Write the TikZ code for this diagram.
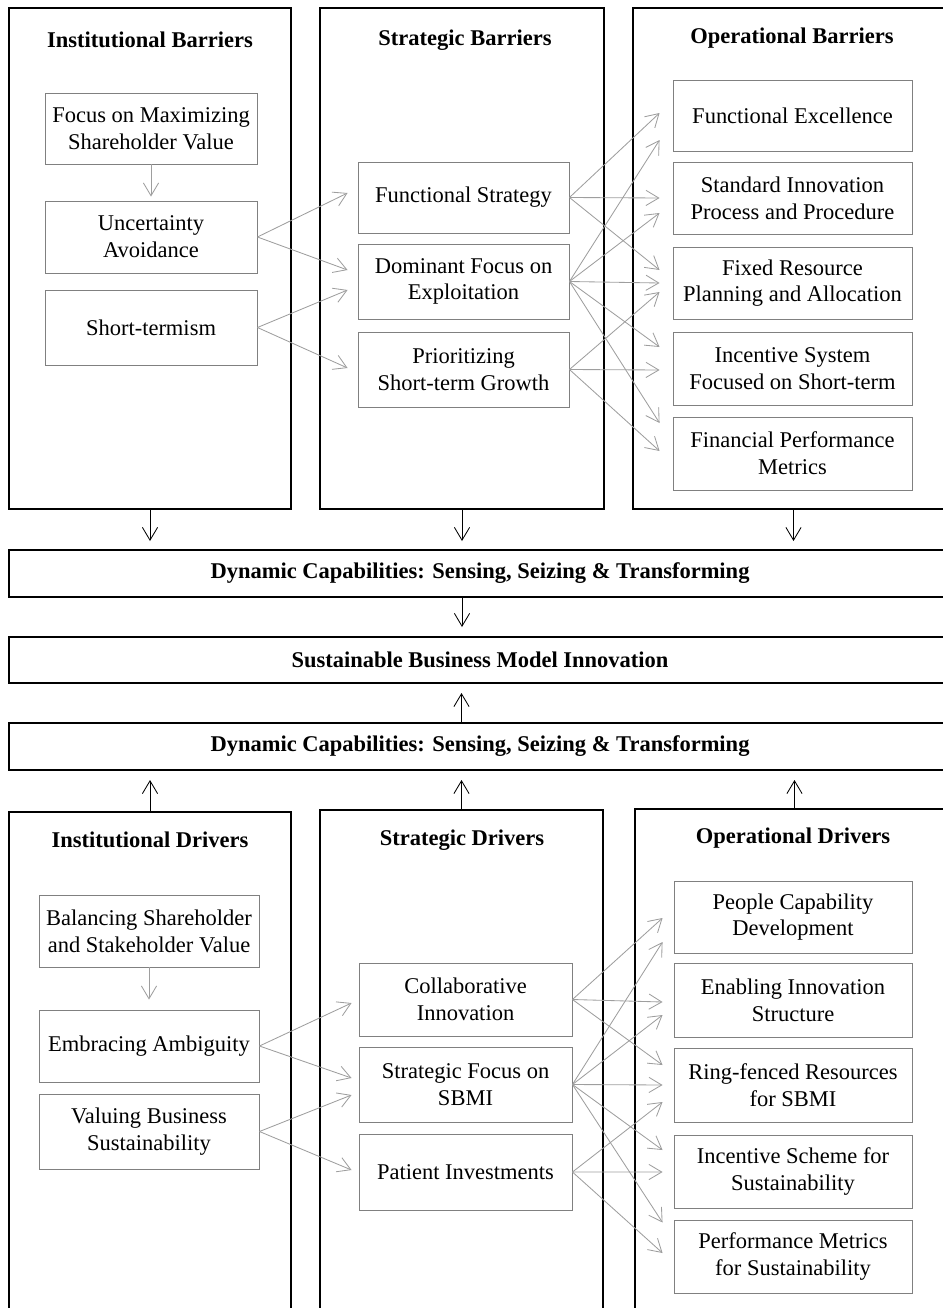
\documentclass[tikz,border=0pt]{standalone}
\usepackage{fontspec}
\setmainfont{Liberation Serif}
\usetikzlibrary{arrows.meta}

\begin{document}
\begin{tikzpicture}[x=0.025cm, y=-0.025cm,
    font=\fontsize{16}{19}\selectfont,
    panel/.style={draw, line width=1.4pt},
    inbox/.style={draw=black!50, line width=0.6pt, align=center, inner sep=0pt},
    wide/.style={draw, line width=1.4pt, font=\fontsize{16}{19}\selectfont\bfseries, minimum width=24cm},
    ttl/.style={font=\fontsize{16}{19}\selectfont\bfseries},
    barrow/.style={-{Straight Barb[length=3.2mm, width=3.8mm]}, line width=0.6pt},
    garrow/.style={-{Straight Barb[length=3.2mm, width=3.8mm]}, draw=black!38, line width=0.6pt}]
        \useasboundingbox (0,0) rectangle (942,1308);

        % barriers
        \node[panel, minimum width=7.05cm, minimum height=12.525cm] (ib) at (150,258.5) {};
        \node[panel, minimum width=7.1cm, minimum height=12.525cm] (sb) at (462,258.5) {};
        \node[panel, minimum width=8.425cm, minimum height=12.525cm] (ob) at (801.5,258.5) {};
        \node[ttl] (ibt) at (150,40) {Institutional Barriers};
        \node[ttl] (sbt) at (465,40) {Strategic Barriers};
        \node[ttl] (obt) at (792,38) {Operational Barriers};

        \node[inbox, minimum width=5.3cm, minimum height=1.775cm] (fm) at (151,128.5) {Focus on Maximizing\\Shareholder Value};
        \node[inbox, minimum width=5.3cm, minimum height=1.8cm] (ua) at (151,237) {Uncertainty\\Avoidance};
        \node[inbox, minimum width=5.3cm, minimum height=1.875cm] (st) at (151,327.5) {Short-termism};

        \node[inbox, minimum width=5.275cm, minimum height=1.775cm] (fs) at (463.5,197.5) {Functional Strategy};
        \node[inbox, minimum width=5.275cm, minimum height=1.875cm] (de) at (463.5,281.5) {Dominant Focus on\\Exploitation};
        \node[inbox, minimum width=5.275cm, minimum height=1.875cm] (pg) at (463.5,369.5) {Prioritizing\\Short-term Growth};

        \node[inbox, minimum width=5.975cm, minimum height=1.775cm] (fe) at (792.5,115.5) {Functional Excellence};
        \node[inbox, minimum width=5.975cm, minimum height=1.8cm] (si) at (792.5,198) {Standard Innovation\\Process and Procedure};
        \node[inbox, minimum width=5.975cm, minimum height=1.8cm] (fr) at (792.5,283) {Fixed Resource\\Planning and Allocation};
        \node[inbox, minimum width=5.975cm, minimum height=1.825cm] (is) at (792.5,368.5) {Incentive System\\Focused on Short-term};
        \node[inbox, minimum width=5.975cm, minimum height=1.825cm] (fp) at (792.5,453.5) {Financial Performance\\Metrics};

        % middle
        \node[wide, minimum height=1.175cm] (dc1) at (489,573.5) {\hspace*{-0.45cm}Dynamic Capabilities: Sensing, Seizing \& Transforming};
        \node[wide, minimum height=1.15cm] (sbmi) at (489,660) {\hspace*{-0.45cm}Sustainable Business Model Innovation};
        \node[wide, minimum height=1.175cm] (dc2) at (489,746.5) {\hspace*{-0.45cm}Dynamic Capabilities: Sensing, Seizing \& Transforming};

        % drivers
        \node[panel, minimum width=7.05cm, minimum height=12.7cm] (id) at (150,1066) {};
        \node[panel, minimum width=7.075cm, minimum height=12.75cm] (sd) at (461.5,1065) {};
        \node[panel, minimum width=8.375cm, minimum height=12.775cm] (od) at (802.5,1064.5) {};
        \node[ttl] (idt) at (150,840) {Institutional Drivers};
        \node[ttl] (sdt) at (462,840) {Strategic Drivers};
        \node[ttl] (odt) at (793,838) {Operational Drivers};

        \node[inbox, minimum width=5.5cm, minimum height=1.8cm] (bs) at (149,931) {Balancing Shareholder\\and Stakeholder Value};
        \node[inbox, minimum width=5.5cm, minimum height=1.8cm] (ea) at (149,1046) {Embracing Ambiguity};
        \node[inbox, minimum width=5.5cm, minimum height=1.875cm] (vb) at (149,1131.5) {Valuing Business\\Sustainability};

        \node[inbox, minimum width=5.325cm, minimum height=1.825cm] (ci) at (465.5,999.5) {Collaborative\\Innovation};
        \node[inbox, minimum width=5.325cm, minimum height=1.875cm] (sf) at (465.5,1084.5) {Strategic Focus on\\SBMI};
        \node[inbox, minimum width=5.325cm, minimum height=1.9cm] (pi) at (465.5,1172) {Patient Investments};

        \node[inbox, minimum width=5.95cm, minimum height=1.8cm] (pc) at (793,917) {People Capability\\Development};
        \node[inbox, minimum width=5.95cm, minimum height=1.85cm] (ei) at (793,1000) {Enabling Innovation\\Structure};
        \node[inbox, minimum width=5.95cm, minimum height=1.85cm] (rr) at (793,1085) {Ring-fenced Resources\\for SBMI};
        \node[inbox, minimum width=5.95cm, minimum height=1.825cm] (ic) at (793,1171.5) {Incentive Scheme for\\Sustainability};
        \node[inbox, minimum width=5.95cm, minimum height=1.825cm] (pm) at (793,1256.5) {Performance Metrics\\for Sustainability};

        % black arrows
        \draw[barrow, shorten >=0.2cm] (ib.south) -- (ib.south |- dc1.north);
        \draw[barrow, shorten >=0.2cm] (sb.south) -- (sb.south |- dc1.north);
        \draw[barrow, shorten >=0.2cm] ([xshift=-0.2cm]ob.south) -- ([xshift=-0.2cm]ob.south |- dc1.north);
        \draw[barrow, shorten >=0.225cm] (sb.south |- dc1.south) -- (sb.south |- sbmi.north);
        \draw[barrow, shorten >=0.225cm] (sd.north |- dc2.north) -- (sd.north |- sbmi.south);
        \draw[barrow, shorten >=0.225cm] (id.north) -- (id.north |- dc2.south);
        \draw[barrow, shorten >=0.225cm] (sd.north) -- (sd.north |- dc2.south);
        \draw[barrow, shorten >=0.225cm] ([xshift=-0.2cm]od.north) -- ([xshift=-0.2cm]od.north |- dc2.south);

        % grey arrows, barriers
        \draw[garrow, shorten >=0.1cm] (fm.south) -- (ua.north);
        \draw[garrow] (ua.east) -- ([shift={(-10,-4.5)}]fs.west);
        \draw[garrow] (ua.east) -- ([shift={(-10,-11.5)}]de.west);
        \draw[garrow] (st.east) -- ([shift={(-10,8.5)}]de.west);
        \draw[garrow] (st.east) -- ([shift={(-10,-1.5)}]pg.west);
        \draw[garrow] (fs.east) -- ([shift={(-13,-2.5)}]fe.west);
        \draw[garrow] (fs.east) -- ([shift={(-13,0)}]si.west);
        \draw[garrow] (fs.east) -- ([shift={(-13,-13)}]fr.west);
        \draw[garrow] (de.east) -- ([shift={(-13,24.5)}]fe.west);
        \draw[garrow] (de.east) -- ([shift={(-13,15)}]si.west);
        \draw[garrow] (de.east) -- ([shift={(-13,0)}]fr.west);
        \draw[garrow] (de.east) -- ([shift={(-13,-21.5)}]is.west);
        \draw[garrow] (de.east) -- ([shift={(-13,-30.5)}]fp.west);
        \draw[garrow] (pg.east) -- ([shift={(-13,9)}]fr.west);
        \draw[garrow] (pg.east) -- ([shift={(-13,1.5)}]is.west);
        \draw[garrow] (pg.east) -- ([shift={(-13,-2.5)}]fp.west);

        % grey arrows, drivers
        \draw[garrow, shorten >=0.25cm] (bs.south) -- (ea.north);
        \draw[garrow] (ea.east) -- ([shift={(-7,3.5)}]ci.west);
        \draw[garrow] (ea.east) -- ([shift={(-7,-6.5)}]sf.west);
        \draw[garrow] (vb.east) -- ([shift={(-7,10.5)}]sf.west);
        \draw[garrow] (vb.east) -- ([shift={(-7,-2)}]pi.west);
        \draw[garrow] (ci.east) -- ([shift={(-11,1)}]pc.west);
        \draw[garrow] (ci.east) -- ([shift={(-11,2)}]ei.west);
        \draw[garrow] (ci.east) -- ([shift={(-11,-20)}]rr.west);
        \draw[garrow] (sf.east) -- ([shift={(-11,25)}]pc.west);
        \draw[garrow] (sf.east) -- ([shift={(-11,15)}]ei.west);
        \draw[garrow] (sf.east) -- ([shift={(-11,0)}]rr.west);
        \draw[garrow] (sf.east) -- ([shift={(-11,-21.5)}]ic.west);
        \draw[garrow] (sf.east) -- ([shift={(-11,-34)}]pm.west);
        \draw[garrow] (pi.east) -- ([shift={(-11,17)}]rr.west);
        \draw[garrow] (pi.east) -- ([shift={(-11,0.5)}]ic.west);
        \draw[garrow] (pi.east) -- ([shift={(-11,-3.5)}]pm.west);
    \end{tikzpicture}
\end{document}
